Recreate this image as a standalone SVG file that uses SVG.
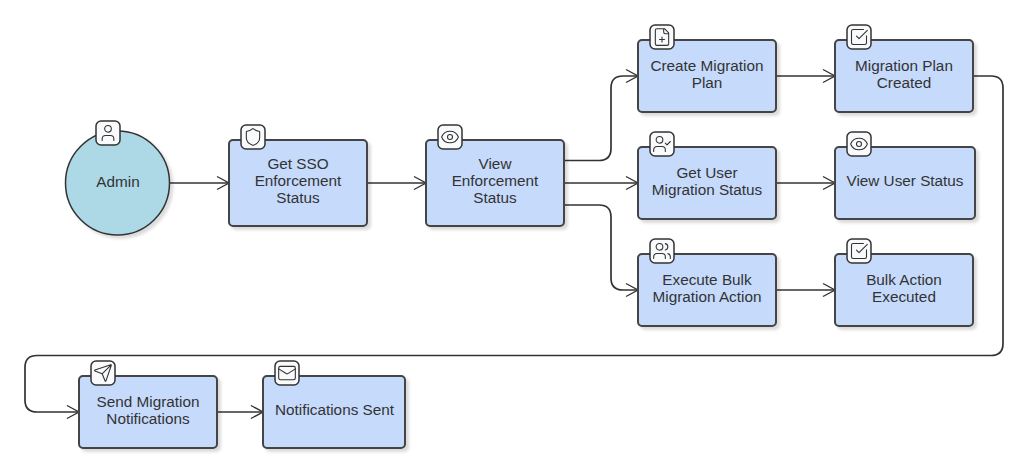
<svg xmlns="http://www.w3.org/2000/svg" width="1028" height="474" viewBox="0 0 1028 474">
<style>
text{font-family:"Liberation Sans",Arial,sans-serif;font-size:15.300px;fill:#333;text-anchor:middle}
.box{fill:#c6dafc;stroke:#444;stroke-width:2}
.circ{fill:#add8e6;stroke:#333;stroke-width:1.5}
.badge{fill:#f8fafc;stroke:#333;stroke-width:1.5}
.ic{fill:none;stroke:#333;stroke-width:1.300;stroke-linecap:round;stroke-linejoin:round}
.edge{fill:none;stroke:#333;stroke-width:1.700;marker-end:url(#arrow)}
</style>
<defs>
<filter id="sh" x="-10%" y="-10%" width="125%" height="125%"><feDropShadow dx="3" dy="3" stdDeviation="1.5" flood-color="#000" flood-opacity=".14"/></filter>
<marker id="arrow" markerUnits="userSpaceOnUse" markerWidth="16" markerHeight="16" refX="13" refY="8" orient="auto"><path d="M1 1.500 L13 8 L1 14.500" fill="none" stroke="#333" stroke-width="1.400"/></marker>
<symbol id="i-user" viewBox="0 0 24 24"><path class="ic" d="M19 21v-2a4 4 0 0 0-4-4H9a4 4 0 0 0-4 4v2"/><circle class="ic" cx="12" cy="7" r="4"/></symbol>
<symbol id="i-shield" viewBox="0 0 24 24"><path class="ic" d="M20 13c0 5-3.500 7.500-7.660 8.950a1 1 0 0 1-.67-.01C7.500 20.500 4 18 4 13V6a1 1 0 0 1 1-1c2 0 4.500-1.200 6.240-2.720a1.170 1.170 0 0 1 1.520 0C14.510 3.810 17 5 19 5a1 1 0 0 1 1 1z"/></symbol>
<symbol id="i-eye" viewBox="0 0 24 24"><path class="ic" d="M2.062 12.348a1 1 0 0 1 0-.696 10.750 10.750 0 0 1 19.876 0 1 1 0 0 1 0 .696 10.750 10.750 0 0 1-19.876 0"/><circle class="ic" cx="12" cy="12" r="3"/></symbol>
<symbol id="i-file" viewBox="0 0 24 24"><path class="ic" d="M15 2H6a2 2 0 0 0-2 2v16a2 2 0 0 0 2 2h12a2 2 0 0 0 2-2V7Z M14 2v4a2 2 0 0 0 2 2h4 M9 15h6 M12 18v-6"/></symbol>
<symbol id="i-check" viewBox="0 0 24 24"><path class="ic" d="M21 10.656V19a2 2 0 0 1-2 2H5a2 2 0 0 1-2-2V5a2 2 0 0 1 2-2h12.344 M9 11l3 3L22 4"/></symbol>
<symbol id="i-ucheck" viewBox="0 0 24 24"><path class="ic" d="M16 21v-2a4 4 0 0 0-4-4H6a4 4 0 0 0-4 4v2 M16 11l2 2 4-4"/><circle class="ic" cx="9" cy="7" r="4"/></symbol>
<symbol id="i-users" viewBox="0 0 24 24"><path class="ic" d="M16 21v-2a4 4 0 0 0-4-4H6a4 4 0 0 0-4 4v2 M22 21v-2a4 4 0 0 0-3-3.870 M16 3.130a4 4 0 0 1 0 7.750"/><circle class="ic" cx="9" cy="7" r="4"/></symbol>
<symbol id="i-send" viewBox="0 0 24 24"><path class="ic" d="M14.536 21.686a.5.5 0 0 0 .937-.024l6.500-19a.496.496 0 0 0-.635-.635l-19 6.500a.5.5 0 0 0-.024.937l7.930 3.180a2 2 0 0 1 1.112 1.110z M21.854 2.147l-10.940 10.939"/></symbol>
<symbol id="i-mail" viewBox="0 0 24 24"><rect class="ic" x="2" y="4" width="20" height="16" rx="2"/><path class="ic" d="M22 7l-8.970 5.700a1.940 1.940 0 0 1-2.060 0L2 7"/></symbol>
</defs>
<g id="connectors">
<path class="edge" d="M170 183H229"/>
<path class="edge" d="M367 183H426"/>
<path class="edge" d="M564 160.500H599Q611 160.500 611 148.500V88Q611 76 623 76H638"/>
<path class="edge" d="M564 183H638"/>
<path class="edge" d="M564 205H599Q611 205 611 217V278Q611 290 623 290H638"/>
<path class="edge" d="M776 76H835"/>
<path class="edge" d="M776 183H835"/>
<path class="edge" d="M776 290H835"/>
<path class="edge" d="M973 76H991Q1003 76 1003 88V343.500Q1003 355.500 991 355.500H37Q25 355.500 25 367.500V400Q25 412 37 412H79"/>
<path class="edge" d="M217 412H263"/>
</g>
<g id="admin"><circle class="circ" cx="117.500" cy="183" r="52" filter="url(#sh)"/><rect class="badge" x="96" y="121" width="24" height="24" rx="5"/><use href="#i-user" x="98" y="123" width="20" height="20"/><text x="118" y="187">Admin</text></g>
<g id="get-sso"><rect class="box" x="229" y="140" width="138" height="86" rx="4" filter="url(#sh)"/><rect class="badge" x="241" y="125" width="24" height="24" rx="5"/><use href="#i-shield" x="243" y="127" width="20" height="20"/><text x="298" y="169">Get SSO</text><text x="298" y="186">Enforcement</text><text x="298" y="203">Status</text></g>
<g id="view-enf"><rect class="box" x="426" y="140" width="138" height="86" rx="4" filter="url(#sh)"/><rect class="badge" x="438" y="125" width="24" height="24" rx="5"/><use href="#i-eye" x="440" y="127" width="20" height="20"/><text x="495" y="169">View</text><text x="495" y="186">Enforcement</text><text x="495" y="203">Status</text></g>
<g id="create-plan"><rect class="box" x="638" y="40" width="138" height="72" rx="4" filter="url(#sh)"/><rect class="badge" x="650" y="25" width="24" height="24" rx="5"/><use href="#i-file" x="652" y="27" width="20" height="20"/><text x="707" y="70.500">Create Migration</text><text x="707" y="87.500">Plan</text></g>
<g id="get-user"><rect class="box" x="638" y="147" width="138" height="72" rx="4" filter="url(#sh)"/><rect class="badge" x="650" y="132" width="24" height="24" rx="5"/><use href="#i-ucheck" x="652" y="134" width="20" height="20"/><text x="707" y="177.500">Get User</text><text x="707" y="194.500">Migration Status</text></g>
<g id="bulk"><rect class="box" x="638" y="254" width="138" height="72" rx="4" filter="url(#sh)"/><rect class="badge" x="650" y="239" width="24" height="24" rx="5"/><use href="#i-users" x="652" y="241" width="20" height="20"/><text x="707" y="284.500">Execute Bulk</text><text x="707" y="301.500">Migration Action</text></g>
<g id="plan-created"><rect class="box" x="835" y="40" width="138" height="72" rx="4" filter="url(#sh)"/><rect class="badge" x="847" y="25" width="24" height="24" rx="5"/><use href="#i-check" x="849" y="27" width="20" height="20"/><text x="904" y="70.500">Migration Plan</text><text x="904" y="87.500">Created</text></g>
<g id="view-user"><rect class="box" x="835" y="147" width="140" height="72" rx="4" filter="url(#sh)"/><rect class="badge" x="847" y="132" width="24" height="24" rx="5"/><use href="#i-eye" x="849" y="134" width="20" height="20"/><text x="905" y="186">View User Status</text></g>
<g id="bulk-done"><rect class="box" x="835" y="254" width="138" height="72" rx="4" filter="url(#sh)"/><rect class="badge" x="847" y="239" width="24" height="24" rx="5"/><use href="#i-check" x="849" y="241" width="20" height="20"/><text x="904" y="284.500">Bulk Action</text><text x="904" y="301.500">Executed</text></g>
<g id="send"><rect class="box" x="79" y="376" width="138" height="72" rx="4" filter="url(#sh)"/><rect class="badge" x="91" y="361" width="24" height="24" rx="5"/><use href="#i-send" x="93" y="363" width="20" height="20"/><text x="148" y="406.500">Send Migration</text><text x="148" y="423.500">Notifications</text></g>
<g id="sent"><rect class="box" x="263" y="376" width="142" height="72" rx="4" filter="url(#sh)"/><rect class="badge" x="275" y="361" width="24" height="24" rx="5"/><use href="#i-mail" x="277" y="363" width="20" height="20"/><text x="334.500" y="415">Notifications Sent</text></g>
</svg>
